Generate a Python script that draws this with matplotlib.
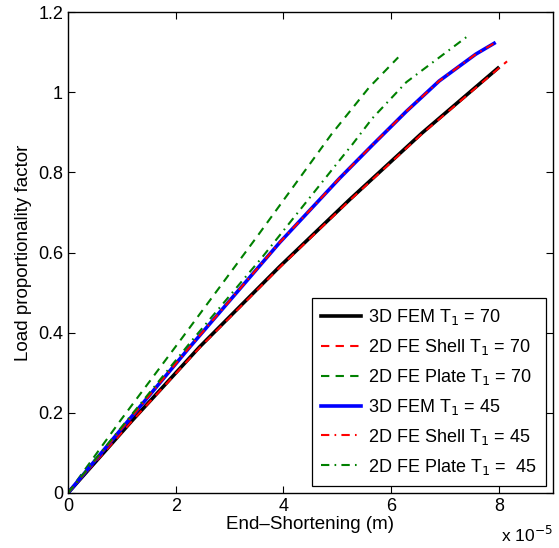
import numpy as np
import matplotlib
matplotlib.use('Agg')
import matplotlib.pyplot as plt

plt.rcParams['font.family'] = ['Liberation Sans', 'DejaVu Sans']

# end-shortening in units of 1e-5 m, load proportionality factor
x_fem70 = [0, 1.2, 2.44, 3.93, 5.22, 6.57, 7.98]
y_fem70 = [0, 0.182, 0.364, 0.565, 0.731, 0.898, 1.06]

x_shell70 = [0, 1.2, 2.44, 3.93, 5.22, 6.57, 7.98, 8.15]
y_shell70 = [0, 0.181, 0.362, 0.563, 0.729, 0.896, 1.058, 1.077]

x_plate70 = [0, 0.98, 2.13, 3.5, 4.89, 5.59, 6.13]
y_plate70 = [0, 0.182, 0.389, 0.638, 0.895, 1.012, 1.087]

x_fem45 = [0, 0.93, 2.26, 3.93, 5.04, 5.65, 6.28, 6.89, 7.57, 7.91]
y_fem45 = [0, 0.15, 0.364, 0.625, 0.785, 0.868, 0.952, 1.028, 1.095, 1.122]

x_shell45 = x_fem45
y_shell45 = y_fem45

x_plate45 = [0, 2.31, 3.61, 5.04, 5.28, 5.65, 6.28, 7.44]
y_plate45 = [0, 0.382, 0.589, 0.83, 0.87, 0.935, 1.025, 1.142]

labels = ['3D FEM T$_1$ = 70', '2D FE Shell T$_1$ = 70', '2D FE Plate T$_1$ = 70',
          '3D FEM T$_1$ = 45', '2D FE Shell T$_1$ = 45', '2D FE Plate T$_1$ =  45']

green = '#008000'

fig = plt.figure(figsize=(5.59, 5.48), dpi=100)
ax = fig.add_axes([0.1216, 0.1004, 0.8674, 0.8776])

ax.plot(x_fem70, y_fem70, color='k', lw=2.6, label=labels[0])
ax.plot(x_shell70, y_shell70, color='r', lw=1.5, ls=(0, (4, 3)), label=labels[1])
ax.plot(x_plate70, y_plate70, color=green, lw=1.5, ls=(0, (4, 3)), label=labels[2])
ax.plot(x_fem45, y_fem45, color='b', lw=2.6, label=labels[3])
ax.plot(x_shell45, y_shell45, color='r', lw=1.5, ls=(0, (4, 2.5, 0.8, 2.5)), label=labels[4])
ax.plot(x_plate45, y_plate45, color=green, lw=1.5, ls=(0, (4, 2.5, 0.8, 2.5)), label=labels[5])

ax.set_xlim(0, 9)
ax.set_ylim(0, 1.2)
ax.set_xticks([0, 2, 4, 6, 8])
ax.set_xticklabels(['0', '2', '4', '6', '8'])
ax.set_yticks([0, 0.2, 0.4, 0.6, 0.8, 1.0, 1.2])
ax.set_yticklabels(['0', '0.2', '0.4', '0.6', '0.8', '1', '1.2'])
ax.tick_params(direction='in', top=True, right=True, labelsize=13, length=5, width=0.8)
for s in ax.spines.values():
    s.set_linewidth(1.0)

ax.set_xlabel('End\u2013Shortening (m)', fontsize=13.5, labelpad=1)
ax.set_ylabel('Load proportionality factor', fontsize=13.5, labelpad=4)
ax.text(1.0, -0.102, r'x 10$^{-5}$', transform=ax.transAxes, ha='right', va='baseline',
        fontsize=12.5)

leg = ax.legend(loc='lower right', fontsize=13, fancybox=False, edgecolor='k',
                framealpha=1, handlelength=2.2, handletextpad=0.4,
                labelspacing=0.55, borderaxespad=0.4, borderpad=0.5)
leg.get_frame().set_linewidth(0.9)

fig.savefig('out.png', dpi=100)
